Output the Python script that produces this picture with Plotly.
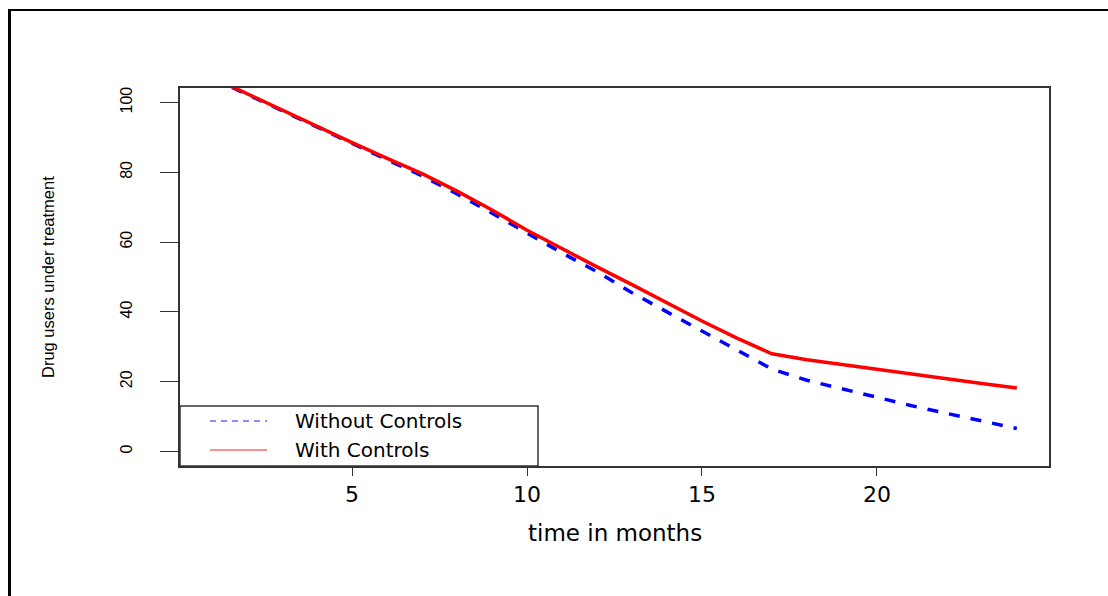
import plotly.graph_objects as go

months = list(range(1, 25))
without_controls = [107.0, 102.3, 97.5, 93.0, 88.2, 83.6, 79.0, 73.8, 68.3, 62.5,
                    56.9, 51.5, 45.5, 40.0, 34.5, 29.0, 23.6, 20.4, 17.9, 15.4,
                    13.1, 10.9, 8.7, 6.6]
with_controls = [107.2, 102.5, 97.8, 93.3, 88.5, 84.0, 79.6, 74.6, 69.2, 63.4,
                 58.1, 52.9, 47.8, 42.6, 37.4, 32.5, 28.0, 26.3, 24.9, 23.5,
                 22.1, 20.8, 19.5, 18.2]
series_names = ["Without Controls", "With Controls"]
series_colors = ["#0000FF", "#FF0000"]
series_dash = ["11px,11px", "solid"]
x_ticks = [5, 10, 15, 20]
y_ticks = [0, 20, 40, 60, 80, 100]

W, H = 1108, 596
L, R, T, B = 180, 59, 88, 130
pw, ph = W - L - R, H - T - B

fig = go.Figure()
for ys, name, col, dash in zip([without_controls, with_controls], series_names,
                               series_colors, series_dash):
    fig.add_trace(go.Scatter(x=months, y=ys, mode="lines", name=name, showlegend=False,
                             line=dict(color=col, width=3.5, dash=dash)))

def px_x(p):
    return (p - L) / pw

def px_y(p):
    return (H - B - p) / ph

# outer figure border (top and left edges)
fig.add_shape(type="line", xref="paper", yref="paper", x0=px_x(9), x1=px_x(1110),
              y0=px_y(10), y1=px_y(10), line=dict(color="black", width=2))
fig.add_shape(type="line", xref="paper", yref="paper", x0=px_x(9.5), x1=px_x(9.5),
              y0=px_y(9), y1=px_y(600), line=dict(color="black", width=3))

# legend box (drawn like R's legend())
fig.add_shape(type="rect", xref="paper", yref="paper", x0=0, x1=px_x(538),
              y0=0, y1=px_y(406), fillcolor="white", layer="above",
              line=dict(color="#333333", width=1.5))
legend_rows = [421, 450]
for name, col, dash, row in zip(series_names, series_colors, series_dash, legend_rows):
    fig.add_shape(type="line", xref="paper", yref="paper", x0=px_x(210), x1=px_x(267),
                  y0=px_y(row), y1=px_y(row), layer="above",
                  line=dict(color=col, width=1.5, dash="6px,5px" if dash != "solid" else "solid"),
                  opacity=0.6)
    fig.add_annotation(text=name, xref="paper", yref="paper", x=px_x(294), y=px_y(row),
                       showarrow=False, xanchor="left", yanchor="middle", borderpad=0,
                       font=dict(family="DejaVu Sans", size=20, color="black"))

fig.add_annotation(text="time in months", xref="paper", yref="paper",
                   x=0.5, y=px_y(533), showarrow=False, xanchor="center", yanchor="middle",
                   font=dict(family="DejaVu Sans", size=23, color="black"))
fig.add_annotation(text="Drug users under treatment", xref="paper", yref="paper",
                   x=px_x(48), y=0.5, showarrow=False, textangle=-90,
                   xanchor="center", yanchor="middle",
                   font=dict(family="Liberation Sans", size=16.5, color="black"))

fig.update_layout(
    width=W, height=H,
    margin=dict(l=L, r=R, t=T, b=B),
    paper_bgcolor="white", plot_bgcolor="white",
    showlegend=False,
    xaxis=dict(range=[0.08, 24.92], tickvals=x_ticks, ticks="outside", ticklen=8,
               tickcolor="#333333", showgrid=False, zeroline=False,
               showline=True, linecolor="#333333", linewidth=1.5, mirror=True,
               tickfont=dict(family="DejaVu Sans", size=22, color="black")),
    yaxis=dict(range=[-4.16, 104.16], tickvals=y_ticks, ticks="outside", ticklen=18,
               tickcolor="#333333", showgrid=False, zeroline=False,
               showline=True, linecolor="#333333", linewidth=1.5, mirror=True,
               tickangle=-90, ticklabelstandoff=22,
               tickfont=dict(family="Liberation Sans", size=16, color="black")),
)

fig.write_html("out.html")
